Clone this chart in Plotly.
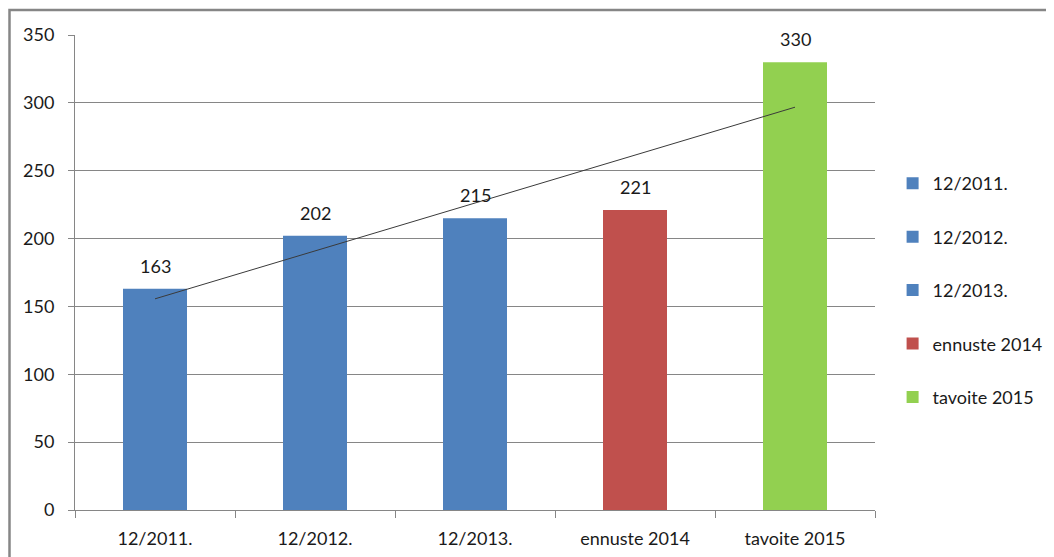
import numpy as np
import plotly.graph_objects as go

categories = ["12/2011.", "12/2012.", "12/2013.", "ennuste 2014", "tavoite 2015"]
values = [163, 202, 215, 221, 330]
colors = ["#4F81BD", "#4F81BD", "#4F81BD", "#C0504D", "#92D050"]
y_ticks = [0, 50, 100, 150, 200, 250, 300, 350]

FONT = "Lato, 'Open Sans', sans-serif"
FS = 18

fig = go.Figure()
for i, (c, v, col) in enumerate(zip(categories, values, colors)):
    fig.add_trace(go.Bar(
        x=[c], y=[v], name=c, marker=dict(color=col, line=dict(width=0)),
        width=0.4, legendgroup=f"g{i}", showlegend=True,
    ))

# linear trendline (least squares fit of the series)
idx = np.arange(1, len(values) + 1)
slope, intercept = np.polyfit(idx, values, 1)
trend = slope * idx + intercept
fig.add_trace(go.Scatter(
    x=categories, y=trend, mode="lines",
    line=dict(color="#3a3a3a", width=1), showlegend=False, hoverinfo="skip",
))

for c, v in zip(categories, values):
    fig.add_annotation(x=c, y=v, text=str(v), showarrow=False,
                       yanchor="bottom", yshift=10,
                       font=dict(size=FS, color="#1a1a1a", family=FONT))

# outer chart border
fig.add_shape(type="rect", xref="paper", yref="paper",
              x0=(1.5 - 67) / 800, x1=1.3, y0=-0.3, y1=(502 - 2) / 475,
              line=dict(color="#868686", width=2.5), fillcolor="rgba(0,0,0,0)",
              layer="below")

fig.update_layout(
    width=1054, height=557,
    margin=dict(l=67, r=187, t=27, b=55),
    paper_bgcolor="white", plot_bgcolor="white",
    barmode="overlay",
    font=dict(family=FONT, size=FS, color="#1a1a1a"),
    legend=dict(x=1.022, xanchor="left", y=0.463, yanchor="middle",
                tracegroupgap=27, font=dict(size=FS, color="#1a1a1a", family=FONT),
                itemwidth=30, bgcolor="rgba(0,0,0,0)"),
    xaxis=dict(type="category", showline=True, linecolor="#868686", linewidth=1,
               ticks="outside", tickson="boundaries", ticklen=7, tickcolor="#868686",
               showgrid=False, range=[-0.5, 4.5], tickfont=dict(size=FS),
               ticklabelstandoff=12),
    yaxis=dict(range=[0, 350], tickvals=y_ticks, showline=True, linecolor="#868686",
               linewidth=1, ticks="outside", ticklen=6, tickcolor="#868686",
               showgrid=True, gridcolor="#868686", gridwidth=1, zeroline=False,
               tickfont=dict(size=FS), ticklabelstandoff=10),
)

fig.write_html("out.html")
